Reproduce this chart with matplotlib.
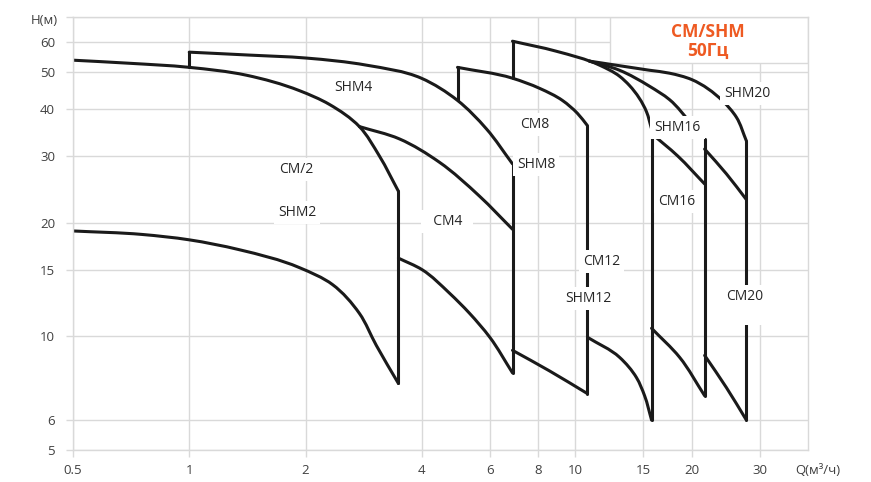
import matplotlib
matplotlib.use("Agg")
from matplotlib import pyplot as plt
from matplotlib.patches import Rectangle, PathPatch
from matplotlib.path import Path
from matplotlib.ticker import NullLocator
import numpy as np

plt.rcParams['font.family'] = ['Open Sans', 'DejaVu Sans']

# axis ticks
x_ticks = [0.5, 1, 2, 4, 6, 8, 10, 15, 20, 30]
x_labels = ['0.5', '1', '2', '4', '6', '8', '10', '15', '20', '30']
y_ticks = [5, 6, 10, 15, 20, 30, 40, 50, 60, 70]
y_labels = ['5', '6', '10', '15', '20', '30', '40', '50', '60', '']

# boundary curves, Q (м³/ч) and H (м)
cm2_q = [0.5, 0.70, 1.0, 1.405, 1.927, 2.305, 2.757, 3.107, 3.48]
cm2_h = [53.8, 52.8, 51.5, 49.1, 44.7, 41.1, 35.9, 30.0, 24.2]

shm2_q = [0.5, 0.755, 1.0, 1.347, 1.927, 2.35, 2.757, 3.05, 3.48]
shm2_h = [19.0, 18.6, 18.0, 16.95, 15.2, 13.7, 11.5, 9.46, 7.5]

shm4_q = [1.0, 1.43, 2.01, 2.874, 3.99, 4.95, 5.88, 6.87]
shm4_h = [56.5, 55.5, 54.5, 52.2, 48.2, 42.1, 35.4, 28.6]

cm4_q = [2.757, 3.5, 4.44, 5.64, 6.87]
cm4_h = [35.9, 33.3, 28.9, 23.5, 19.2]

shm4_low_q = [3.48, 4.01, 4.72, 5.31, 6.0, 6.87]
shm4_low_h = [16.1, 15.0, 13.0, 11.52, 9.94, 8.0]

cm8_q = [4.95, 6.87, 8.08, 9.25, 10.12, 10.74]
cm8_h = [51.5, 48.2, 45.3, 42.1, 38.9, 36.1]

shm8_q = [6.87, 8.93, 11.54, 13.0, 13.8, 15.27, 15.74]
shm8_h = [60.4, 56.8, 52.2, 48.8, 46.1, 39.3, 35.4]

cm8_low_q = [6.87, 8.56, 10.74]
cm8_low_h = [9.18, 8.1, 7.05]

cm12_low_q = [10.74, 13.0, 14.39, 15.1, 15.74]
cm12_low_h = [9.94, 8.8, 7.77, 6.96, 6.0]

shm16_q = [10.87, 13.0, 15.55, 17.52, 19.98]
shm16_h = [53.5, 50.6, 45.9, 42.3, 36.5]

shm20_q = [10.87, 15.55, 17.52, 20.0, 24.03, 26.1, 27.7]
shm20_h = [53.5, 50.6, 49.7, 47.8, 42.0, 38.0, 32.9]

cm16_q = [15.74, 18.4, 21.6]
cm16_h = [34.4, 30.0, 25.3]

cm16_low_q = [15.74, 18.6, 21.6]
cm16_low_h = [10.5, 8.8, 6.96]

cm20_q = [21.6, 24.6, 27.7]
cm20_h = [31.3, 26.9, 23.0]

cm20_low_q = [21.6, 24.6, 27.7]
cm20_low_h = [8.9, 7.31, 6.0]

# vertical limits: Q, H bottom, H top
vert_q = [1.0, 3.48, 4.95, 6.87, 6.87, 10.74, 15.74, 21.6, 27.7]
vert_lo = [51.5, 7.5, 42.1, 48.2, 8.0, 7.05, 6.0, 6.96, 6.0]
vert_hi = [56.5, 24.2, 51.5, 60.4, 28.6, 36.1, 35.4, 33.3, 32.9]

# labels
label_text = ['SHM4', 'CM/2', 'SHM2', '  CM4  ', 'CM8', 'SHM8', 'CM12', 'SHM12',
              'SHM16', 'CM16', 'SHM20', 'CM20\n ']
label_q = [2.66, 1.89, 1.90, 4.66, 7.83, 7.9, 11.68, 10.8, 18.4, 18.3, 27.9, 27.4]
label_h = [45.6, 27.6, 21.3, 20.1, 36.4, 28.5, 15.75, 12.6, 35.7, 22.7, 43.9, 12.1]

grid_c = '#d9d9d9'
line_c = '#1a1a1a'


def smooth(q, h):
    # smoothed line through the points (chord-length spline in log space)
    pts = np.column_stack([np.log10(q), np.log10(h)])
    n = len(pts)
    d = np.linalg.norm(np.diff(pts, axis=0), axis=1)
    m = np.zeros_like(pts)
    m[0] = (pts[1] - pts[0]) / d[0]
    m[-1] = (pts[-1] - pts[-2]) / d[-1]
    for i in range(1, n - 1):
        a = (pts[i] - pts[i - 1]) / d[i - 1]
        b = (pts[i + 1] - pts[i]) / d[i]
        m[i] = (a * d[i] + b * d[i - 1]) / (d[i - 1] + d[i])
    verts = [pts[0]]
    codes = [Path.MOVETO]
    for i in range(n - 1):
        verts += [pts[i] + m[i] * d[i] / 3, pts[i + 1] - m[i + 1] * d[i] / 3,
                  pts[i + 1]]
        codes += [Path.CURVE4] * 3
    return Path(10 ** np.array(verts), codes)


fig = plt.figure(figsize=(8.71, 4.82), dpi=100)
ax = fig.add_axes([73 / 871, 1 - 450 / 482, 735 / 871, 433 / 482])
ax.set_xscale('log')
ax.set_yscale('log')
ax.set_xlim(0.5, 40)
ax.set_ylim(5, 70)

ax.set_xticks(x_ticks)
ax.set_xticklabels(x_labels)
ax.set_yticks(y_ticks)
ax.set_yticklabels(y_labels)
ax.xaxis.set_minor_locator(NullLocator())
ax.yaxis.set_minor_locator(NullLocator())
ax.tick_params(axis='x', length=5, width=1, color=grid_c, labelsize=9.5,
               labelcolor='#404040', pad=5)
ax.tick_params(axis='y', length=5, width=1, color=grid_c, labelsize=9.5,
               labelcolor='#404040', pad=8)
ax.grid(True, color=grid_c, lw=1)
ax.set_axisbelow(True)
for s in ax.spines.values():
    s.set_color(grid_c)
    s.set_linewidth(1)

ax.annotate('Q(м³/ч)', xy=(1, 0), xycoords='axes fraction', xytext=(10, -20),
            textcoords='offset pixels', ha='center', va='center',
            fontsize=9.5, color='#404040')
ax.annotate('H(м)', xy=(0, 1), xycoords='axes fraction', xytext=(-29, -4),
            textcoords='offset pixels', ha='center', va='center',
            fontsize=9.5, color='#404040')

# title box
ax.add_patch(Rectangle((0.7306, 0.8938), 0.2694, 0.1062, transform=ax.transAxes,
                       fc='white', ec=grid_c, lw=1, zorder=1))
ax.text(0.864, 0.944, 'CM/SHM\n50Гц', transform=ax.transAxes, ha='center',
        va='center', fontsize=12.5, fontweight='bold', color='#ee5a22',
        linespacing=1.05, zorder=4)

curves = [(cm2_q, cm2_h), (shm2_q, shm2_h), (shm4_q, shm4_h), (cm4_q, cm4_h),
          (shm4_low_q, shm4_low_h), (cm8_q, cm8_h), (shm8_q, shm8_h),
          (cm8_low_q, cm8_low_h), (cm12_low_q, cm12_low_h), (shm16_q, shm16_h),
          (shm20_q, shm20_h), (cm16_q, cm16_h), (cm16_low_q, cm16_low_h),
          (cm20_q, cm20_h), (cm20_low_q, cm20_low_h)]
for q, h in curves:
    ax.add_patch(PathPatch(smooth(q, h), fill=False, ec=line_c, lw=2.2,
                           capstyle='round', joinstyle='round', zorder=2))

ax.vlines(vert_q, vert_lo, vert_hi, color=line_c, lw=2.2, zorder=2,
          capstyle='round')

for t, q, h in zip(label_text, label_q, label_h):
    ax.text(q, h, t, ha='center', va='center', fontsize=10, color='#262626',
            zorder=3, bbox=dict(boxstyle='square,pad=0.3', fc='white',
                                ec='none'))

fig.savefig('out.png', dpi=100)
